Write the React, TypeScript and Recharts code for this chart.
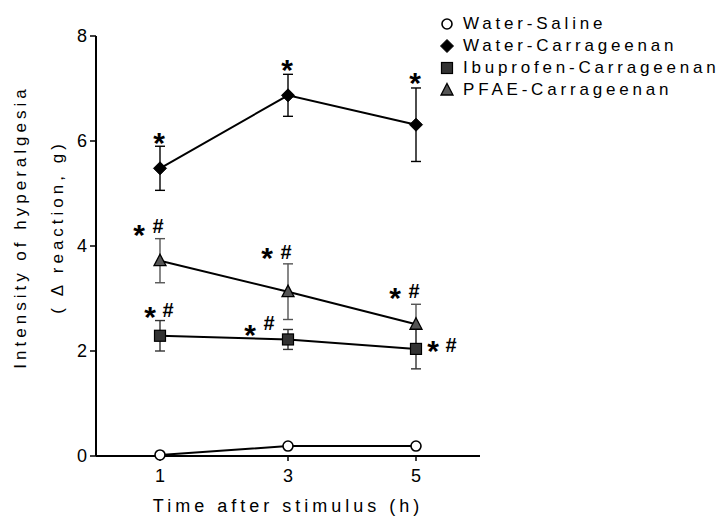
import { LineChart, Line, XAxis, YAxis, ErrorBar, ReferenceDot, Label } from "recharts"

const hours = [1, 3, 5]
const waterSaline = [0.02, 0.19, 0.19]
const waterCarrageenan = [5.48, 6.87, 6.31]
const waterCarrageenanErr = [0.42, 0.4, 0.7]
const ibuprofen = [2.29, 2.22, 2.04]
const ibuprofenErr = [0.29, 0.19, 0.38]
const pfae = [3.72, 3.13, 2.51]
const pfaeErr = [0.42, 0.53, 0.38]
const xTicks = [1, 3, 5]
const yTicks = [0, 2, 4, 6, 8]

// significance marks (* vs saline, # vs carrageenan)
const waterCarrageenanMarks = ["*", "*", "*"]
const ibuprofenMarks = ["*#", "*#", "*#"]
const pfaeMarks = ["*#", "*#", "*#"]

const FONT = "'Liberation Sans', Arial, sans-serif"

type Shape = "circle" | "diamond" | "square" | "triangle"

const series = [
  { key: "ws", name: "Water-Saline", shape: "circle" as Shape, values: waterSaline },
  { key: "wc", name: "Water-Carrageenan", shape: "diamond" as Shape, values: waterCarrageenan },
  { key: "ibu", name: "Ibuprofen-Carrageenan", shape: "square" as Shape, values: ibuprofen },
  { key: "pfae", name: "PFAE-Carrageenan", shape: "triangle" as Shape, values: pfae },
]

const data = hours.map((h, i) => ({
  hour: h,
  ws: waterSaline[i],
  wc: waterCarrageenan[i],
  wcErr: waterCarrageenanErr[i],
  ibu: ibuprofen[i],
  ibuErr: ibuprofenErr[i],
  pfae: pfae[i],
  pfaeErr: pfaeErr[i],
}))

// where the star / hash sit relative to the top of each error bar (px)
const markLayout: Record<string, { s: [number, number]; h: [number, number] }[]> = {
  wc: [
    { s: [-1, -7], h: [0, 0] },
    { s: [-1, -8], h: [0, 0] },
    { s: [-1, -8], h: [0, 0] },
  ],
  pfae: [
    { s: [-21, -7], h: [-2, -13] },
    { s: [-21, -9], h: [-2, -12] },
    { s: [-21, -10], h: [-2, -13] },
  ],
  ibu: [
    { s: [-10, -7], h: [8, -11] },
    { s: [-38, 2], h: [-19, -6] },
    { s: [17, 19], h: [35, 16] },
  ],
}

function Marker({ shape, cx, cy }: { shape: Shape; cx: number; cy: number }) {
  if (shape === "circle")
    return <circle cx={cx} cy={cy} r={5} fill="#fff" stroke="#000" strokeWidth={1.6} />
  if (shape === "diamond")
    return (
      <polygon
        points={`${cx},${cy - 6.5} ${cx + 6.5},${cy} ${cx},${cy + 6.5} ${cx - 6.5},${cy}`}
        fill="#000"
        stroke="#000"
        strokeWidth={1}
      />
    )
  if (shape === "square")
    return <rect x={cx - 5.5} y={cy - 5.5} width={11} height={11} fill="#333" stroke="#000" strokeWidth={1.2} />
  return (
    <polygon
      points={`${cx},${cy - 6.5} ${cx + 6},${cy + 5} ${cx - 6},${cy + 5}`}
      fill="#555"
      stroke="#000"
      strokeWidth={1.3}
    />
  )
}

function SigMark({ cx, cy, text, layout }: { cx: number; cy: number; text: string; layout: { s: [number, number]; h: [number, number] } }) {
  const starSize = 30
  const hashSize = 20
  return (
    <g>
      <text
        x={cx + layout.s[0]}
        y={cy + layout.s[1] + starSize * 0.45}
        textAnchor="middle"
        fontFamily={FONT}
        fontSize={starSize}
        fontWeight="bold"
        fill="#000"
      >
        *
      </text>
      {text.includes("#") && (
        <text
          x={cx + layout.h[0]}
          y={cy + layout.h[1] + hashSize * 0.35}
          textAnchor="middle"
          fontFamily={FONT}
          fontSize={hashSize}
          fontWeight="bold"
          fill="#000"
        >
          #
        </text>
      )}
    </g>
  )
}

function LegendBox() {
  return (
    <div style={{ position: "absolute", left: 439, top: 13, fontFamily: FONT, fontSize: 17, letterSpacing: 3.8, color: "#000" }}>
      {series.map((s) => (
        <div key={s.key} style={{ display: "flex", alignItems: "center", height: 22, whiteSpace: "nowrap" }}>
          <svg width={16} height={16} style={{ marginRight: 8 }}>
            <Marker shape={s.shape} cx={8} cy={8} />
          </svg>
          <span>{s.name}</span>
        </div>
      ))}
    </div>
  )
}

export default function App() {
  const marks: { key: string; err: number[]; values: number[]; text: string[] }[] = [
    { key: "wc", err: waterCarrageenanErr, values: waterCarrageenan, text: waterCarrageenanMarks },
    { key: "pfae", err: pfaeErr, values: pfae, text: pfaeMarks },
    { key: "ibu", err: ibuprofenErr, values: ibuprofen, text: ibuprofenMarks },
  ]

  return (
    <div style={{ position: "absolute", left: 0, top: 0, width: 721, height: 522, background: "#fff" }}>
      <LineChart width={721} height={522} data={data} margin={{ top: 36, right: 241, left: 36, bottom: 36 }}>
        <XAxis
          dataKey="hour"
          type="number"
          domain={[0, 6]}
          ticks={xTicks}
          height={30}
          axisLine={{ stroke: "#000", strokeWidth: 2 }}
          tickLine={{ stroke: "#000", strokeWidth: 1.5 }}
          tickSize={5}
          tickMargin={8}
          tick={{ fill: "#000", fontSize: 18, fontFamily: FONT }}
        >
          <Label
            content={({ viewBox }: any) => (
              <text
                x={viewBox.x + viewBox.width / 2}
                y={viewBox.y + 56}
                textAnchor="middle"
                fontFamily={FONT}
                fontSize={18}
                letterSpacing={4}
                fill="#000"
              >
                Time after stimulus (h)
              </text>
            )}
          />
        </XAxis>
        <YAxis
          type="number"
          domain={[0, 8]}
          ticks={yTicks}
          width={60}
          axisLine={{ stroke: "#000", strokeWidth: 2 }}
          tickLine={{ stroke: "#000", strokeWidth: 1.5 }}
          tickSize={6}
          tickMargin={3}
          tick={{ fill: "#000", fontSize: 18, fontFamily: FONT }}
        >
          <Label
            content={({ viewBox }: any) => {
              const cy = viewBox.y + viewBox.height / 2 - 19
              const x1 = viewBox.x - 10
              const x2 = viewBox.x + 27
              return (
                <g fontFamily={FONT} fontSize={17} letterSpacing={4} fill="#000">
                  <text x={x1} y={cy} textAnchor="middle" transform={`rotate(-90 ${x1} ${cy})`}>
                    Intensity of hyperalgesia
                  </text>
                  <text x={x2} y={cy} textAnchor="middle" transform={`rotate(-90 ${x2} ${cy})`}>
                    ( Δ reaction, g)
                  </text>
                </g>
              )
            }}
          />
        </YAxis>

        {series.map((s) => (
          <Line
            key={s.key}
            dataKey={s.key}
            name={s.name}
            type="linear"
            stroke="#000"
            strokeWidth={2}
            isAnimationActive={false}
            activeDot={false}
            dot={(p: any) => <Marker key={`${s.key}-${p.index}`} shape={s.shape} cx={p.cx} cy={p.cy} />}
          >
            {s.key === "wc" && (
              <ErrorBar dataKey="wcErr" width={5} stroke="#000" strokeWidth={1.4} direction="y" isAnimationActive={false} />
            )}
            {s.key === "ibu" && (
              <ErrorBar dataKey="ibuErr" width={5} stroke="#333" strokeWidth={1.4} direction="y" isAnimationActive={false} />
            )}
            {s.key === "pfae" && (
              <ErrorBar dataKey="pfaeErr" width={5} stroke="#555" strokeWidth={1.4} direction="y" isAnimationActive={false} />
            )}
          </Line>
        ))}

        {marks.map((m) =>
          hours.map((h, i) => (
            <ReferenceDot
              key={`${m.key}-mark-${i}`}
              x={h}
              y={m.values[i] + m.err[i]}
              r={0}
              ifOverflow="visible"
              shape={(p: any) => <SigMark cx={p.cx} cy={p.cy} text={m.text[i]} layout={markLayout[m.key][i]} />}
            />
          ))
        )}
      </LineChart>
      <LegendBox />
    </div>
  )
}
